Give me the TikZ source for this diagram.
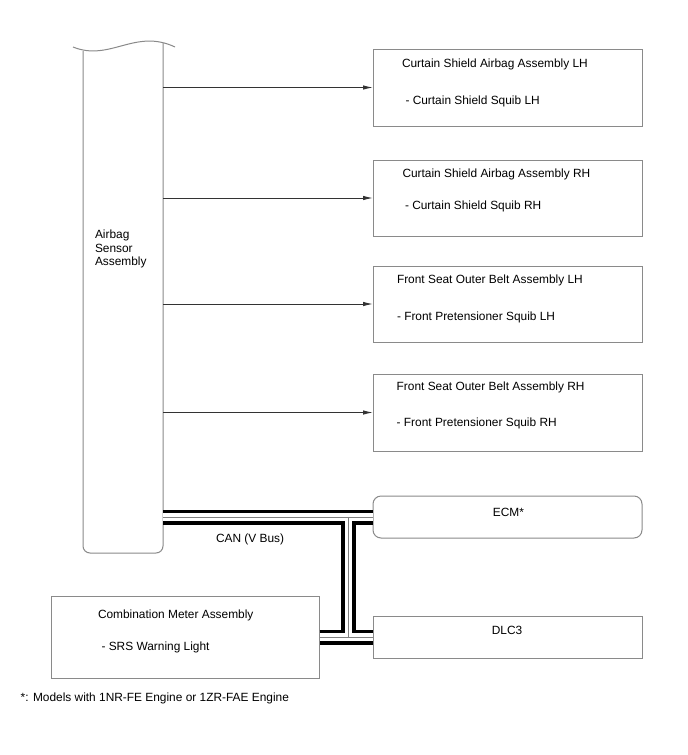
\documentclass[tikz,border=0pt]{standalone}
\usepackage{fontspec}
\setmainfont{Liberation Sans}
\usetikzlibrary{arrows.meta}
\definecolor{boxgray}{HTML}{8A8A8A}
\definecolor{linegray}{HTML}{333333}
\begin{document}
\begin{tikzpicture}[x=1pt,y=-1pt,
  box/.style={draw=boxgray, line width=1pt, inner sep=0pt, outer sep=0pt, rectangle, anchor=north west},
  rbox/.style={box, rounded corners=8pt},
  lbl/.style={inner sep=0pt, outer sep=0pt, anchor=base west, font=\fontsize{11.9}{13.5}\selectfont},
  clbl/.style={lbl, anchor=base},
  conn/.style={draw=linegray, line width=1pt, -{Latex[length=10pt,width=4.5pt]}},
]
\useasboundingbox[fill=white] (0,0) rectangle (688,755);

% airbag sensor assembly (shape drawn directly)
\node[inner sep=0pt, outer sep=0pt, minimum width=80pt, minimum height=505pt, anchor=north west] (airbag) at (83,48) {};
\draw[boxgray, line width=1pt] (73,47) .. controls (110,62) and (135,28) .. (175,47);
\draw[boxgray, line width=1pt, rounded corners=7pt] (83,51) -- (83,553) -- (163,553) -- (163,43);
\node[lbl, align=left, anchor=north west] (airbagtxt) at (95,230) {Airbag\\Sensor\\Assembly};

% right boxes
\node[box, minimum width=269pt, minimum height=77pt] (b1) at (373,49) {};
\node[box, minimum width=269pt, minimum height=76pt] (b2) at (373,160) {};
\node[box, minimum width=269pt, minimum height=76pt] (b3) at (373,266) {};
\node[box, minimum width=269pt, minimum height=77pt] (b4) at (373,374) {};
\node[rbox, minimum width=269pt, minimum height=42pt] (ecm) at (373,496) {};
\node[box, minimum width=269pt, minimum height=42pt] (dlc) at (373,616) {};
\node[box, minimum width=268pt, minimum height=82pt] (comb) at (51.5,596) {};

% texts
\node[lbl] (t1) at (402,67.2) {Curtain Shield Airbag Assembly LH};
\node[lbl] (s1) at (405.5,104.5) {- Curtain Shield Squib LH};
\node[lbl] (t2) at (402.5,177) {Curtain Shield Airbag Assembly RH};
\node[lbl] (s2) at (405,209.2) {- Curtain Shield Squib RH};
\node[lbl] (t3) at (397,283.2) {Front Seat Outer Belt Assembly LH};
\node[lbl] (s3) at (397,320) {- Front Pretensioner Squib LH};
\node[lbl] (t4) at (396.7,390.2) {Front Seat Outer Belt Assembly RH};
\node[lbl] (s4) at (396.7,426) {- Front Pretensioner Squib RH};
\node[clbl] (ecmtxt) at (508.5,516) {ECM*};
\node[clbl] (dlctxt) at (507,634.2) {DLC3};
\node[lbl] (ct) at (98,618.2) {Combination Meter Assembly};
\node[lbl] (cs) at (101.5,650.2) {- SRS Warning Light};
\node[lbl] (can) at (216,542.2) {CAN (V Bus)};
\node[lbl] (note) at (20.7,701) {*: Models with 1NR-FE Engine or 1ZR-FAE Engine};

% arrows
\draw[conn] (airbag.east |- b1.west) -- (b1.west);
\draw[conn] (airbag.east |- b2.west) -- (b2.west);
\draw[conn] (airbag.east |- b3.west) -- (b3.west);
\draw[conn] (airbag.east |- b4.west) -- (b4.west);

% CAN bus
\coordinate (vx) at (348.5,0);
\foreach \w/\c in {15/black, 7.4/white, 0.9/gray}{
  \draw[line width=\w pt, \c]
    (airbag.east |- ecm.west) -- (ecm.west)
    (vx |- ecm.west) -- (vx |- dlc.west)
    (comb.east) -- (dlc.west);
}
\end{tikzpicture}
\end{document}
